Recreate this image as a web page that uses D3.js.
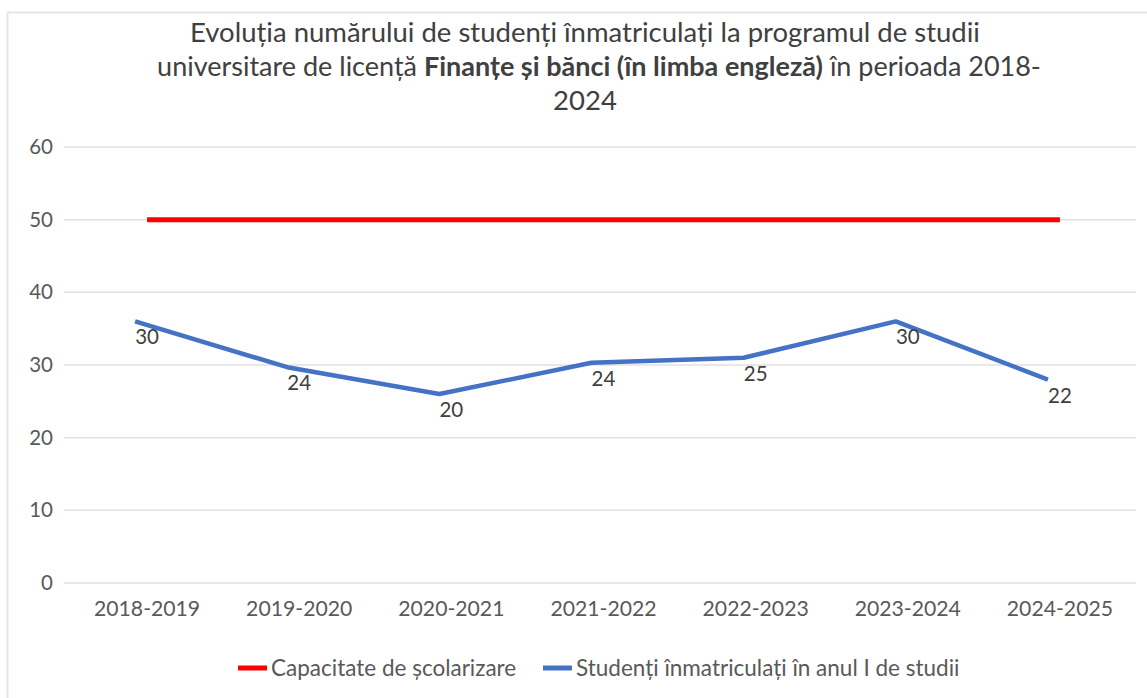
<!DOCTYPE html>
<html>
<head>
<meta charset="utf-8">
<script src="https://cdn.jsdelivr.net/npm/d3@7"></script>
<style>
  body { margin: 0; background: #fff; }
  text { font-family: Lato, "Open Sans", sans-serif; }
</style>
</head>
<body>
<svg class="chart"></svg>
<script>
var categories = ["2018-2019", "2019-2020", "2020-2021", "2021-2022", "2022-2023", "2023-2024", "2024-2025"];
var capacity = [50, 50, 50, 50, 50, 50, 50];
// line position as drawn in the picture, and the labels printed next to it
var enrolled = [36, 29.7, 26, 30.3, 31, 36, 28];
var enrolledLabels = [30, 24, 20, 24, 25, 30, 22];
var yTicks = [0, 10, 20, 30, 40, 50, 60];

var width = 1147, height = 698;

var chart = d3.select(".chart")
    .attr("width", width)
    .attr("height", height);

// chart frame
chart.append("rect")
    .attr("x", 7.5).attr("y", 12.5)
    .attr("width", width).attr("height", height)
    .attr("fill", "#fff")
    .attr("stroke", "#e6e6e6")
    .attr("stroke-width", 2);

var x = d3.scaleBand()
    .domain(categories)
    .range([71, 1136])
    .padding(0);

var y = d3.scaleLinear()
    .domain([0, 60])
    .range([583, 147]);

function cx(d) { return x(d) + x.bandwidth() / 2; }

// gridlines
chart.append("g")
    .selectAll("line")
    .data(yTicks)
  .enter().append("line")
    .attr("x1", 64).attr("x2", 1136)
    .attr("y1", function(d) { return y(d); })
    .attr("y2", function(d) { return y(d); })
    .attr("stroke", "#e0e0e0")
    .attr("stroke-width", 1.5);

var yAxis = d3.axisLeft(y).tickValues(yTicks).tickSize(0).tickPadding(0);
chart.append("g")
    .attr("transform", "translate(53,0)")
    .call(yAxis)
    .call(function(g) { g.select(".domain").remove(); })
    .selectAll("text")
    .attr("fill", "#595959")
    .style("font-size", "20.5px");

var xAxis = d3.axisBottom(x).tickSize(0).tickPadding(0);
chart.append("g")
    .attr("transform", "translate(0,601)")
    .call(xAxis)
    .call(function(g) { g.select(".domain").remove(); })
    .selectAll("text")
    .attr("fill", "#595959")
    .style("font-size", "21.2px");

// capacity line
var redLine = d3.line()
    .x(function(d, i) { return cx(categories[i]); })
    .y(function(d) { return y(d); });

chart.append("path")
    .datum(capacity)
    .attr("d", redLine)
    .attr("fill", "none")
    .attr("stroke", "#ff0000")
    .attr("stroke-width", 5);

// enrolled line (drawn slightly left of category centre, as in the picture)
var blueLine = d3.line()
    .x(function(d, i) { return cx(categories[i]) - 12; })
    .y(function(d) { return y(d); });

chart.append("path")
    .datum(enrolled)
    .attr("d", blueLine)
    .attr("fill", "none")
    .attr("stroke", "#4472c4")
    .attr("stroke-width", 4.5)
    .attr("stroke-linejoin", "round");

chart.append("g")
    .selectAll("text")
    .data(enrolledLabels)
  .enter().append("text")
    .attr("x", function(d, i) { return cx(categories[i]); })
    .attr("y", function(d, i) { return y(enrolled[i]) + 23; })
    .attr("text-anchor", "middle")
    .attr("fill", "#404040")
    .style("font-size", "20.5px")
    .text(function(d) { return d; });

// title
var title = chart.append("text")
    .attr("text-anchor", "middle")
    .attr("fill", "#404040")
    .style("font-size", "27.5px");

title.append("tspan")
    .attr("x", 585).attr("y", 42)
    .text("Evoluția numărului de studenți înmatriculați la programul de studii");

var t2 = title.append("tspan").attr("x", 599).attr("y", 76).style("font-size", "27px");
t2.append("tspan").text("universitare de licență ");
t2.append("tspan").style("font-weight", "bold").text("Finanțe și bănci (în limba engleză)");
t2.append("tspan").text(" în perioada 2018-");

title.append("tspan")
    .attr("x", 585).attr("y", 110)
    .text("2024");

// legend
var legend = [
  {name: "Capacitate de școlarizare", color: "#ff0000", x: 238},
  {name: "Studenți înmatriculați în anul I de studii", color: "#4472c4", x: 543}
];

var lg = chart.append("g").selectAll("g")
    .data(legend)
  .enter().append("g")
    .attr("transform", function(d) { return "translate(" + d.x + ",668)"; });

lg.append("line")
    .attr("x1", 0).attr("x2", 29)
    .attr("stroke", function(d) { return d.color; })
    .attr("stroke-width", 5);

lg.append("text")
    .attr("x", 33)
    .attr("dy", "0.35em")
    .attr("fill", "#595959")
    .style("font-size", "22.5px")
    .text(function(d) { return d.name; });
</script>
</body>
</html>
